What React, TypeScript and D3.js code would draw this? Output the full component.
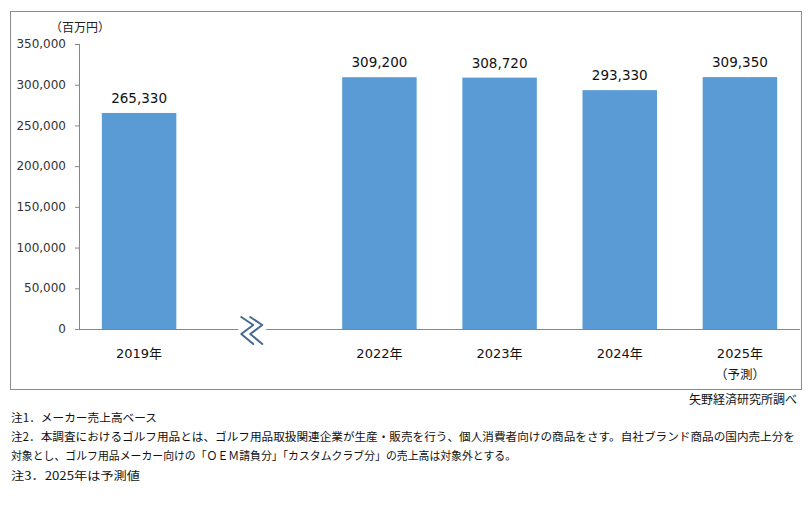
import React from "react";
import * as d3 from "d3";

const categories = ["2019年", "", "2022年", "2023年", "2024年", "2025年"];
const subLabels = ["", "", "", "", "", "（予測）"];
const values: (number | null)[] = [265330, null, 309200, 308720, 293330, 309350];
const yTicks = [0, 50000, 100000, 150000, 200000, 250000, 300000, 350000];
const unitLabel = "（百万円）";
const sourceLabel = "矢野経済研究所調べ";
const notes = [
  "注1．メーカー売上高ベース",
  "注2．本調査におけるゴルフ用品とは、ゴルフ用品取扱関連企業が生産・販売を行う、個人消費者向けの商品をさす。自社ブランド商品の国内売上分を",
  "対象とし、ゴルフ用品メーカー向けの「ＯＥＭ請負分」「カスタムクラブ分」の売上高は対象外とする。",
  "注3．2025年は予測値",
];
const noteWidths = [146, 784, 505, 129];

const W = 812;
const H = 509;
const plot = { left: 79, right: 800, top: 44, bottom: 329 };
const NUM_FONT = "'DejaVu Sans', 'Noto Sans CJK JP', sans-serif";
const JP_FONT = "'Noto Sans CJK JP', sans-serif";

export default function App() {
  const x = d3
    .scaleBand<number>()
    .domain(categories.map((_, i) => i))
    .range([plot.left, plot.right])
    .paddingInner(0.38)
    .paddingOuter(0.19);
  const y = d3.scaleLinear().domain([0, 350000]).range([plot.bottom, plot.top]);
  const fmt = d3.format(",");

  const breakIdx = 1;
  const bx = (x(breakIdx) as number) + x.bandwidth() / 2 - 7;
  const by = plot.bottom;
  const zig = d3.line().curve(d3.curveLinear);
  const path1: [number, number][] = [
    [bx - 11, by - 12],
    [bx + 1, by - 4],
    [bx - 11, by + 5],
    [bx + 1, by + 15],
  ];
  const path2: [number, number][] = path1.map(([px, py]) => [px + 9, py]);

  return (
    <svg
      width={W}
      height={H}
      style={{ position: "absolute", left: 0, top: 0, background: "#fff" }}
    >
      <rect x={10.5} y={11.5} width={791} height={378} fill="#fff" stroke="#8c8c8c" strokeWidth={1} />

      {yTicks.map((t) => (
        <g key={t}>
          <line x1={plot.left - 4} x2={plot.left} y1={y(t) + 0.5} y2={y(t) + 0.5} stroke="#868686" />
          <text
            x={66}
            y={y(t)}
            dy="0.35em"
            textAnchor="end"
            fontFamily={NUM_FONT}
            fontSize={12}
            fill="#333"
          >
            {fmt(t)}
          </text>
        </g>
      ))}
      <line x1={plot.left + 0.5} x2={plot.left + 0.5} y1={y(350000)} y2={plot.bottom} stroke="#868686" />
      <line x1={plot.left} x2={plot.right} y1={plot.bottom + 0.5} y2={plot.bottom + 0.5} stroke="#868686" />

      <text x={80} y={28} dy="0.35em" textAnchor="middle" fontFamily={JP_FONT} fontSize={12} fill="#222">
        {unitLabel}
      </text>

      {values.map((v, i) =>
        v == null ? null : (
          <g key={i}>
            <rect
              x={x(i) as number}
              y={y(v)}
              width={x.bandwidth()}
              height={plot.bottom - y(v)}
              fill="#5b9bd5"
            />
            <text
              x={(x(i) as number) + x.bandwidth() / 2}
              y={y(v) - 10}
              textAnchor="middle"
              fontFamily={NUM_FONT}
              fontSize={13.5}
              fill="#111"
            >
              {fmt(v)}
            </text>
          </g>
        )
      )}

      {categories.map((c, i) => (
        <g key={"c" + i}>
          <text
            x={(x(i) as number) + x.bandwidth() / 2}
            y={353}
            dy="0.35em"
            textAnchor="middle"
            fontFamily={NUM_FONT}
            fontSize={13}
            fill="#111"
          >
            {c}
          </text>
          {subLabels[i] ? (
            <text
              x={(x(i) as number) + x.bandwidth() / 2}
              y={375}
              dy="0.35em"
              textAnchor="middle"
              fontFamily={JP_FONT}
              fontSize={12.5}
              fill="#111"
            >
              {subLabels[i]}
            </text>
          ) : null}
        </g>
      ))}

      <rect x={bx - 14} y={by - 2} width={28} height={5} fill="#fff" />
      <path d={zig(path1) || ""} fill="none" stroke="#44698f" strokeWidth={2} strokeLinejoin="round" strokeLinecap="round" />
      <path d={zig(path2) || ""} fill="none" stroke="#44698f" strokeWidth={2} strokeLinejoin="round" strokeLinecap="round" />

      <text x={797} y={400} dy="0.35em" textAnchor="end" fontFamily={JP_FONT} fontSize={12} fill="#111">
        {sourceLabel}
      </text>

      {notes.map((n, i) => (
        <text
          key={"n" + i}
          x={11}
          y={418 + i * 19.2}
          dy="0.35em"
          fontFamily={JP_FONT}
          fontSize={11.5}
          fill="#111"
          textLength={noteWidths[i]}
          lengthAdjust="spacingAndGlyphs"
        >
          {n}
        </text>
      ))}
    </svg>
  );
}
